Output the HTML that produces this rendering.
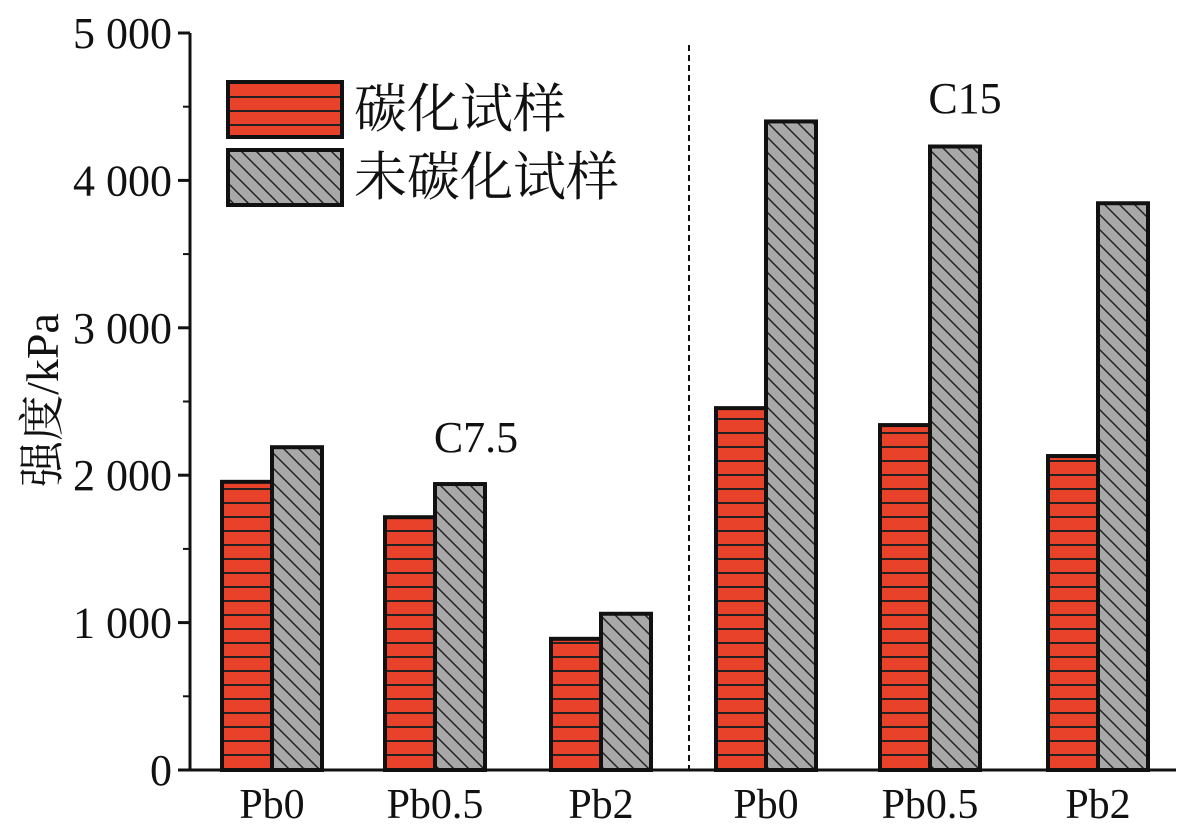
<!DOCTYPE html>
<html><head><meta charset="utf-8"><style>
body{margin:0;background:#fff}
svg text{font-family:"Liberation Serif","Noto Serif CJK SC",serif;fill:#111}
</style></head><body>
<svg width="1193" height="834" viewBox="0 0 1193 834">
<defs>
<pattern id="hstripe" width="14" height="14" patternUnits="userSpaceOnUse">
<rect width="14" height="14" fill="#e8432a"/><rect y="12" width="14" height="2" fill="#222"/></pattern>
<pattern id="diag" width="15" height="15" patternUnits="userSpaceOnUse">
<rect width="15" height="15" fill="#a8a8a8"/><path d="M-4,-4 L19,19 M-4,11 L4,19 M11,-4 L19,4" stroke="#222" stroke-width="1.5"/></pattern>
</defs>
<g id="bars"></g>
<line x1="190" y1="33" x2="190" y2="770" stroke="#111" stroke-width="3"/>
<line x1="190" y1="770" x2="1176" y2="770" stroke="#111" stroke-width="3"/>
<line x1="689" y1="45" x2="689" y2="770" stroke="#111" stroke-width="2" stroke-dasharray="6,4"/>
<g id="yticks"></g>
<g id="xlabels"></g>
<text x="58" y="400" font-size="46" text-anchor="middle" transform="rotate(-90 58 400)">强度/kPa</text>
<text x="476" y="452" font-size="44" text-anchor="middle">C7.5</text>
<text x="965" y="113" font-size="44" text-anchor="middle">C15</text>
<g>
<rect x="228" y="82" width="114" height="55" fill="url(#hstripe)" stroke="#111" stroke-width="4"/>
<text x="354" y="127" font-size="53">碳化试样</text>
<rect x="228" y="150" width="114" height="55" fill="url(#diag)" stroke="#111" stroke-width="4"/>
<text x="354" y="195" font-size="53">未碳化试样</text>
</g>
</svg>
<script>
const categories=["Pb0","Pb0.5","Pb2","Pb0","Pb0.5","Pb2"];
const carbonated=[1955,1715,890,2455,2340,2130];
const uncarbonated=[2190,1940,1060,4400,4230,3845];
const yTicks=[0,1000,2000,3000,4000,5000];
const yTickLabels=["0","1 000","2 000","3 000","4 000","5 000"];
const centers=[272,435,601,766,930,1098];
const NS="http://www.w3.org/2000/svg";
const y=v=>770-v*(737/5000);
const bw=50;
const bars=document.getElementById('bars');
function mk(tag,attrs,parent){const e=document.createElementNS(NS,tag);for(const k in attrs)e.setAttribute(k,attrs[k]);parent.appendChild(e);return e;}
categories.forEach((c,i)=>{
 const r=mk('rect',{x:centers[i]-bw,y:y(carbonated[i]),width:bw,height:770-y(carbonated[i]),fill:'url(#hstripe)',stroke:'#111','stroke-width':4},bars);
 
 
 const g=mk('rect',{x:centers[i],y:y(uncarbonated[i]),width:bw,height:770-y(uncarbonated[i]),fill:'url(#diag)',stroke:'#111','stroke-width':4},bars);
 
 
 const t=mk('text',{x:centers[i],y:818,'font-size':42,'text-anchor':'middle'},document.getElementById('xlabels'));
 t.textContent=c;
 
 
});
const yt=document.getElementById('yticks');
yTicks.forEach((v,i)=>{
 mk('line',{x1:178,x2:190,y1:y(v),y2:y(v),stroke:'#111','stroke-width':3},yt);
 if(i<yTicks.length-1){mk('line',{x1:183,x2:190,y1:y(v+500),y2:y(v+500),stroke:'#111','stroke-width':2},yt);}
 const t=mk('text',{x:172,y:y(v)+15,'font-size':44,'text-anchor':'end'},yt);
 t.textContent=yTickLabels[i];
 
 
});
</script>
</body></html>
